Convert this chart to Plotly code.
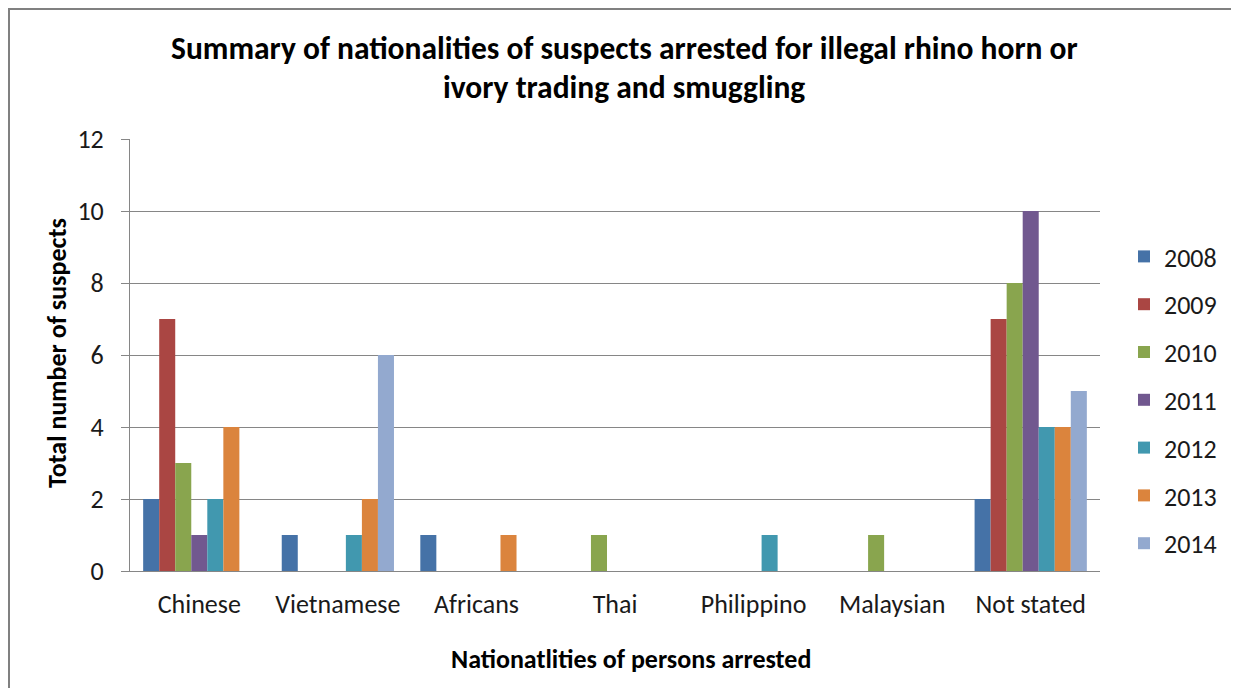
import plotly.graph_objects as go

categories = ["Chinese", "Vietnamese", "Africans", "Thai", "Philippino", "Malaysian", "Not stated"]
years = ["2008", "2009", "2010", "2011", "2012", "2013", "2014"]
v2008 = [2, 1, 1, 0, 0, 0, 2]
v2009 = [7, 0, 0, 0, 0, 0, 7]
v2010 = [3, 0, 0, 1, 0, 1, 8]
v2011 = [1, 0, 0, 0, 0, 0, 10]
v2012 = [2, 1, 0, 0, 1, 0, 4]
v2013 = [4, 2, 1, 0, 0, 0, 4]
v2014 = [0, 6, 0, 0, 0, 0, 5]
series = [v2008, v2009, v2010, v2011, v2012, v2013, v2014]
colors = ["#4572A7", "#AA4643", "#89A54E", "#71588F", "#4198AF", "#DB843D", "#93A9CF"]
y_ticks = [0, 2, 4, 6, 8, 10, 12]
title_lines = ["Summary of nationalities of suspects arrested for illegal rhino horn or",
               "ivory trading and smuggling"]
x_title = "Nationatlities of persons arrested"
y_title = "Total number of suspects"

FONT = "Carlito, Calibri, Lato, sans-serif"

# page has an 8px body margin; work in page coordinates and shift
OFF = 8
W, H = 1239 - OFF, 688 - OFF
L, R, T, B = 130 - OFF, 1100 - OFF, 139 - OFF, 571 - OFF


def px(x):
    return (x - OFF - L) / (R - L)


def py(y):
    return (B - (y - OFF)) / (B - T)


fig = go.Figure()
for yr, vals, c in zip(years, series, colors):
    fig.add_trace(go.Bar(name=yr, x=categories, y=vals, legendgroup=yr,
                         marker=dict(color=c, line=dict(width=0))))

annotations = [
    dict(text="<b>%s</b>" % title_lines[0], x=px(624), y=py(48), xref="paper", yref="paper",
         xanchor="center", yanchor="middle", showarrow=False,
         font=dict(size=31.5, family=FONT, color="#000000")),
    dict(text="<b>%s</b>" % title_lines[1], x=px(624), y=py(87), xref="paper", yref="paper",
         xanchor="center", yanchor="middle", showarrow=False,
         font=dict(size=31.5, family=FONT, color="#000000")),
    dict(text="<b>%s</b>" % x_title, x=px(631), y=py(659), xref="paper", yref="paper",
         xanchor="center", yanchor="middle", showarrow=False,
         font=dict(size=26, family=FONT, color="#000000")),
    dict(text="<b>%s</b>" % y_title, x=px(57), y=py(353), xref="paper", yref="paper",
         xanchor="center", yanchor="middle", showarrow=False, textangle=-90,
         font=dict(size=26, family=FONT, color="#000000")),
]

fig.update_layout(
    width=W, height=H,
    margin=dict(l=L, r=W - R, t=T, b=H - B, autoexpand=False),
    paper_bgcolor="white", plot_bgcolor="white",
    barmode="group", bargap=0.19, bargroupgap=0,
    font=dict(family=FONT, color="#000000"),
    xaxis=dict(
        tickfont=dict(size=26, color="#1a1a1a"),
        showgrid=False, showline=True, linecolor="#868686", linewidth=1,
        ticks="", ticklabelstandoff=10,
    ),
    yaxis=dict(
        range=[0, 12], tickvals=y_ticks,
        tickfont=dict(size=26, color="#1a1a1a"),
        showgrid=True, gridcolor="#868686", gridwidth=1,
        showline=True, linecolor="#868686", linewidth=1,
        ticks="outside", ticklen=8, tickcolor="#868686",
        zeroline=False, ticklabelstandoff=12,
    ),
    legend=dict(
        x=px(1124), xanchor="left", y=py(233), yanchor="top",
        font=dict(size=26, family=FONT, color="#1a1a1a"),
        tracegroupgap=11, itemwidth=30,
        bgcolor="rgba(0,0,0,0)",
    ),
    showlegend=True,
    annotations=annotations,
    shapes=[
        dict(type="line", xref="paper", yref="paper", x0=px(OFF), x1=px(1239 + OFF), y0=py(OFF + 1), y1=py(OFF + 1),
             line=dict(color="#808080", width=2)),
        dict(type="line", xref="paper", yref="paper", x0=px(OFF + 1), x1=px(OFF + 1), y0=py(OFF), y1=py(688 + OFF),
             line=dict(color="#808080", width=2)),
    ],
)

fig.write_html("out.html")
